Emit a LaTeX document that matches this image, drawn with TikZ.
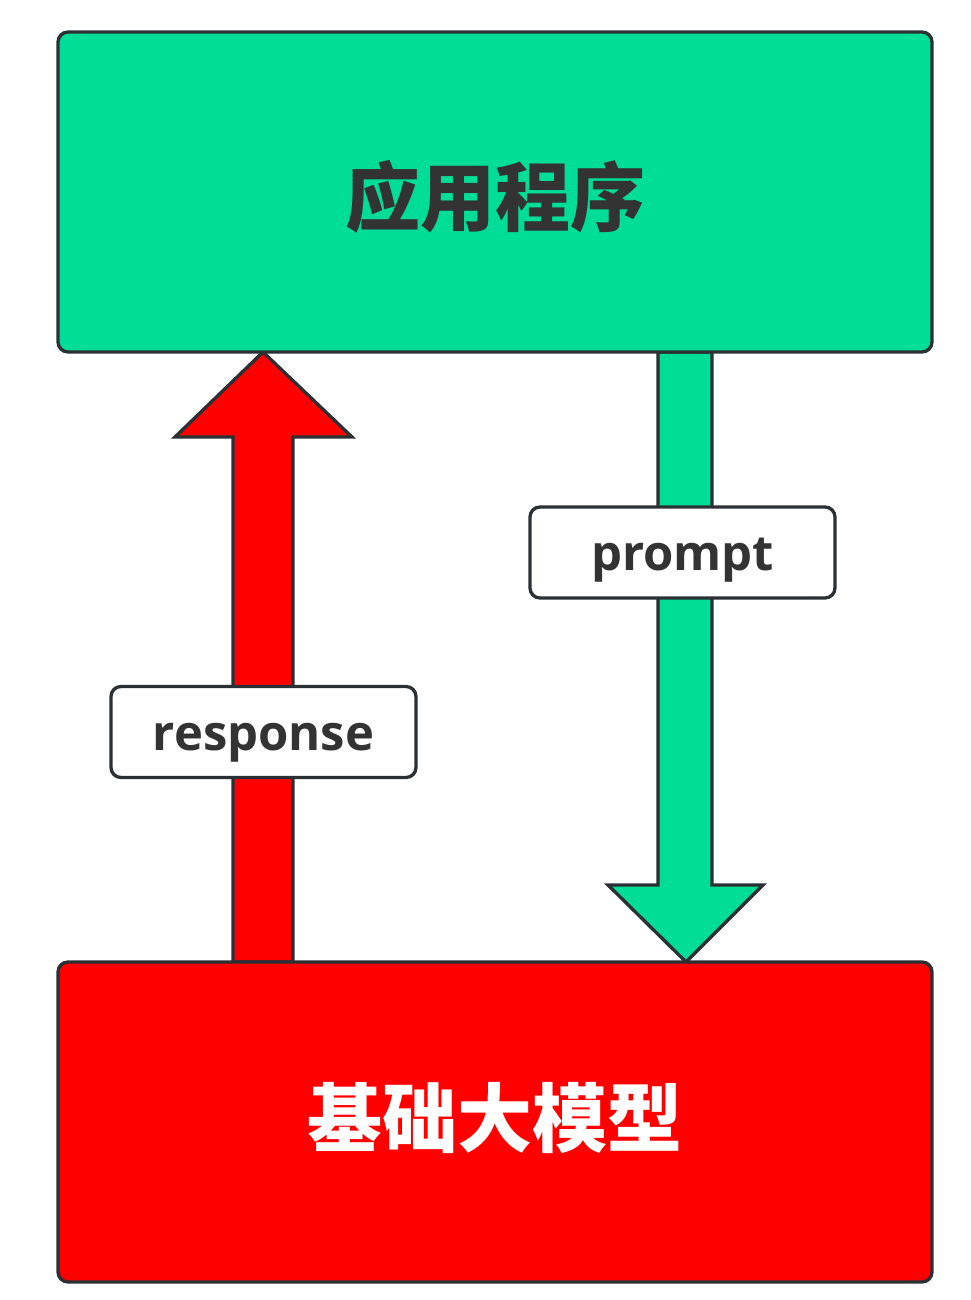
\documentclass[tikz,border=0pt]{standalone}
\usepackage{fontspec}
\setmainfont{Open Sans}
\newfontfamily\cjk{Noto Sans CJK SC}
\definecolor{appgreen}{HTML}{00DD96}
\definecolor{modelred}{HTML}{FF0000}
\definecolor{edge}{HTML}{2B3035}
\definecolor{ink}{HTML}{333333}
\tikzset{
  bigbox/.style={draw=edge, line width=3.3pt, rounded corners=10pt,
    minimum width=874pt, minimum height=320pt, inner sep=0pt,
    font=\cjk\bfseries\fontsize{75}{80}\selectfont},
  labelbox/.style={draw=edge, fill=white, line width=3.3pt, rounded corners=10pt,
    minimum width=305pt, minimum height=91pt, inner sep=0pt,
    text=ink, font=\bfseries\fontsize{49}{52}\selectfont,
    text height=46pt, text depth=10pt},
  fatarrow/.style={draw=edge, line width=3.3pt, line join=miter}
}
\begin{document}
\begin{tikzpicture}[x=1pt,y=-1pt]
\useasboundingbox (0,0) rectangle (970,1300);
% arrows
\draw[fatarrow, fill=modelred] (233,962) -- (233,437) -- (175,437) -- (263,352)
  -- (352,437) -- (293,437) -- (293,962) -- cycle;
\draw[fatarrow, fill=appgreen] (658,352) -- (658,885) -- (608,885) -- (686,962)
  -- (763,885) -- (712,885) -- (712,352) -- cycle;
% boxes
\node[bigbox, fill=appgreen, text=ink, text height=66pt, text depth=0pt] (app) at (495,192) {应用程序};
\node[bigbox, fill=modelred, text=white, text height=48pt, text depth=0pt] (model) at (495,1122) {基础大模型};
% labels
\node[labelbox] (prompt) at (682.5,552.5) {prompt};
\node[labelbox] (response) at (263.5,732) {response};
\end{tikzpicture}
\end{document}
